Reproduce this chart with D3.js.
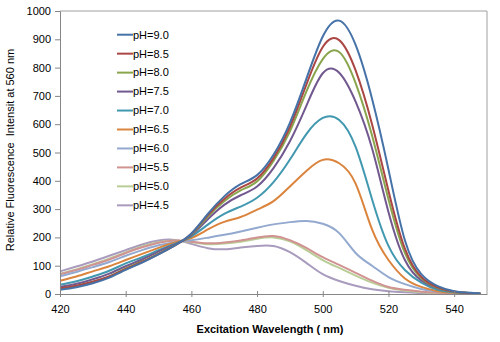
<!DOCTYPE html>
<html><head><meta charset="utf-8">
<script src="https://cdn.jsdelivr.net/npm/d3@7"></script>
<style>body{margin:0;background:#fff;}svg{display:block;font-family:"Liberation Sans",Arial,sans-serif;}</style>
</head><body>
<svg id="c" width="500" height="342"></svg>
<script>
const wavelengths = [420,425,430,435,440,445,450,455,460,465,470,475,480,485,490,495,500,505,510,515,520,525,530,535,540,545,548];
const ph90 = [15,24,38,58,85,111,140,172,214,283,345,388,420,492,605,760,910,966,880,690,440,190,70,28,10,4,2];
const ph85 = [20,29,43,62,88,113,141,172,213,279,336,376,408,480,590,740,873,897,790,600,365,160,60,24,9,3,1];
const ph80 = [18,28,43,62,90,115,143,173,211,274,328,366,398,470,575,715,830,855,745,560,335,145,56,22,8,3,1];
const ph75 = [25,36,52,72,98,122,150,175,208,264,315,349,380,445,540,665,780,782,680,515,290,120,48,20,8,3,1];
const ph70 = [33,45,62,82,108,130,155,178,204,245,283,309,340,395,475,565,622,615,520,335,170,85,40,15,6,2,1];
const ph65 = [47,62,80,98,120,142,163,182,198,228,255,272,298,328,380,435,474,462,390,228,120,55,25,10,4,2,1];
const ph60 = [63,78,95,113,135,155,172,183,190,199,209,221,234,246,254,258,248,215,145,100,60,35,18,9,4,2,1];
const ph55 = [70,85,103,122,145,165,181,189,185,179,182,189,200,205,190,163,130,103,75,47,25,15,8,4,2,1,0];
const ph50 = [72,87,105,125,147,168,183,189,183,176,178,185,195,200,186,155,120,92,65,40,22,12,6,3,2,1,0];
const ph45 = [80,97,115,135,155,175,189,191,177,162,158,164,170,170,148,110,70,46,29,17,10,6,3,2,1,0,0];
const seriesNames = ["pH=9.0","pH=8.5","pH=8.0","pH=7.5","pH=7.0","pH=6.5","pH=6.0","pH=5.5","pH=5.0","pH=4.5"];
const seriesColors = ["#4572A7","#AA4643","#89A54E","#71588F","#4198AF","#DB843D","#93A9CF","#D19392","#B9CD96","#A99BBD"];
const xTicks = [420,440,460,480,500,520,540];
const yTicks = [0,100,200,300,400,500,600,700,800,900,1000];

const seriesValues = [ph90,ph85,ph80,ph75,ph70,ph65,ph60,ph55,ph50,ph45];
const series = seriesNames.map((n,i)=>({name:n,color:seriesColors[i],pts:wavelengths.map((w,j)=>[w,seriesValues[i][j]])}));

const svg = d3.select("#c");
const L=60,R=487,T=11,B=294;
const x = d3.scaleLinear().domain([420,550]).range([L,R]);
const y = d3.scaleLinear().domain([0,1000]).range([B,T]);

// frame top/right
svg.append("path").attr("d",`M${L},${T}H${R}V${B}`).attr("fill","none").attr("stroke","#a0a0a0").attr("stroke-width",1);

// lines
const line = d3.line().x(d=>x(d[0])).y(d=>y(d[1])).curve(d3.curveNatural);
svg.append("g").selectAll("path").data(series.slice().reverse()).join("path")
  .attr("d",d=>line(d.pts)).attr("fill","none").attr("stroke",d=>d.color).attr("stroke-width",2);

// y axis
const ya = svg.append("g").attr("transform",`translate(${L},0)`)
  .call(d3.axisLeft(y).tickValues(yTicks).tickFormat(d3.format("d")).tickSize(5).tickPadding(4));
ya.select(".domain").attr("stroke","#868686");
ya.selectAll(".tick line").attr("stroke","#868686");
ya.selectAll("text").attr("font-size",11).attr("fill","#000").attr("font-family","Liberation Sans, Arial, sans-serif");

// x axis
const xa = svg.append("g").attr("transform",`translate(0,${B})`)
  .call(d3.axisBottom(x).tickValues(xTicks).tickFormat(d3.format("d")).tickSize(3).tickPadding(8).tickSizeOuter(0));
xa.select(".domain").attr("stroke","#868686");
xa.selectAll(".tick line").attr("stroke","#868686").attr("y1",-3).attr("y2",3);
xa.selectAll("text").attr("font-size",11).attr("fill","#000").attr("font-family","Liberation Sans, Arial, sans-serif");

// titles
svg.append("text").attr("x",270).attr("y",333).attr("text-anchor","middle")
  .attr("font-size",11).attr("font-weight","bold").text("Excitation Wavelength ( nm)");
svg.append("text").attr("transform","translate(14,150) rotate(-90)").attr("text-anchor","middle")
  .attr("font-size",11).attr("xml:space","preserve").style("white-space","pre").text("Relative Fluorescence  Intensit at 560 nm");

// legend
const lg = svg.append("g").selectAll("g").data(series).join("g")
  .attr("transform",(d,i)=>`translate(117,${34.7+i*18.96})`);
lg.append("line").attr("x1",0).attr("x2",16).attr("stroke",d=>d.color).attr("stroke-width",2);
lg.append("text").attr("x",16).attr("dy","0.35em").attr("font-size",11).text(d=>d.name);
</script>
</body></html>
